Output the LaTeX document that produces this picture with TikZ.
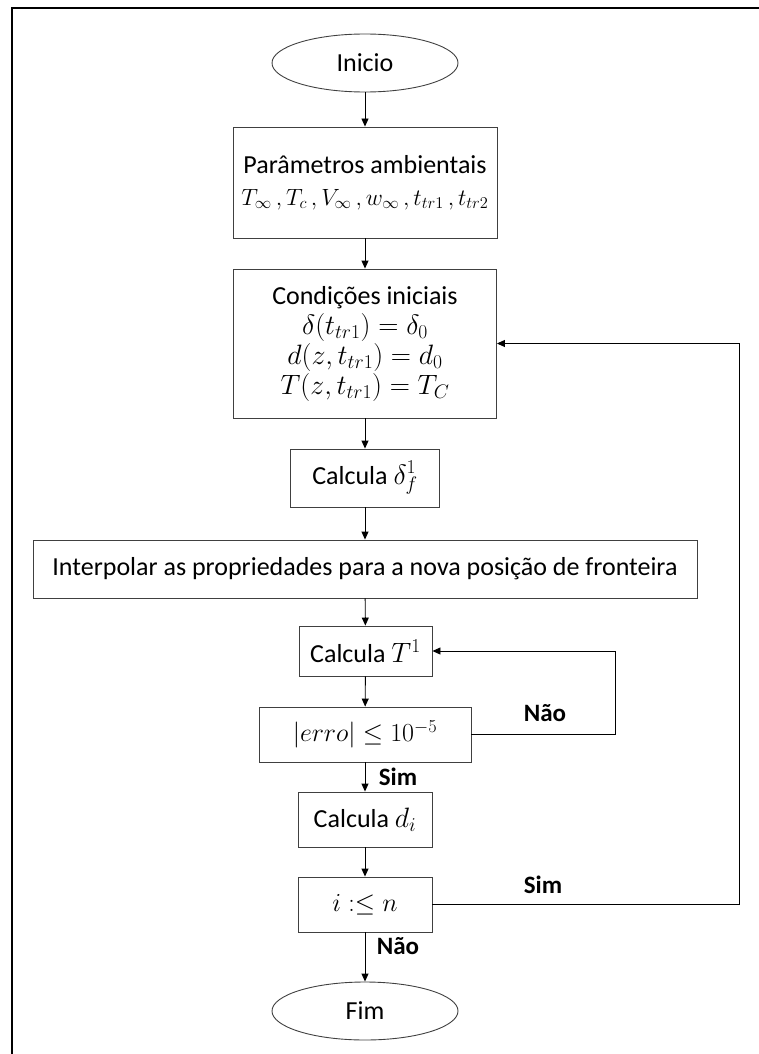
\RequirePackage{fix-cm}
\documentclass[tikz,border=0pt]{standalone}
\usepackage{fontspec}
\setmainfont{Carlito}
\usetikzlibrary{shapes.geometric,arrows.meta}
\newcommand\mthsz[2]{{\fontsize{#1}{30}\selectfont$#2$}}
\begin{document}
\begin{tikzpicture}[x=1pt,y=-1pt,
  box/.style={draw=black!75, line width=0.9pt, rectangle, inner sep=0pt, align=center, font=\fontsize{26}{30}\selectfont},
  term/.style={draw=black!75, line width=0.9pt, ellipse, inner sep=0pt, minimum width=186pt, minimum height=58pt, font=\fontsize{26}{28}\selectfont},
  arr/.style={-{Triangle[length=8pt,width=7pt]}, line width=0.9pt},
  lbl/.style={font=\bfseries\fontsize{25}{28}\selectfont, inner sep=0pt}]
\useasboundingbox (0,0) rectangle (758,1054);
\draw[line width=2pt] (12,1054) -- (12,8) -- (759,8);

\node[term] (inicio) at (365,63) {Inicio};
\node[box, minimum width=264pt, minimum height=111pt] (param) at (365,182.5)
  {Parâmetros ambientais\\[2pt] \mthsz{23.5}{T_\infty\,,T_c\,,V_\infty\,,w_\infty\,,t_{tr1}\,,t_{tr2}}};
\node[box, minimum width=263pt, minimum height=149pt] (cond) at (365,343.5)
  {Condições iniciais\\ \mthsz{28}{\delta(t_{tr1})=\delta_0}\\ \mthsz{28}{d(z,t_{tr1})=d_0}\\ \mthsz{28}{T(z,t_{tr1})=T_C}};
\node[box, minimum width=149pt, minimum height=58pt] (calcdelta) at (365,478) {Calcula \mthsz{28}{\delta_f^1}};
\node[box, minimum width=664pt, minimum height=58pt] (interp) at (365,569)
  {Interpolar as propriedades para a nova posição de fronteira};
\node[box, minimum width=133pt, minimum height=50pt] (calcT) at (365.5,651) {Calcula \mthsz{28}{T^1}};
\node[box, minimum width=212pt, minimum height=55pt] (erro) at (365,734.5) {\mthsz{26}{|erro|\leq 10^{-5}}};
\node[box, minimum width=134pt, minimum height=55pt] (calcd) at (365,819.5) {Calcula \mthsz{28}{d_i}};
\node[box, minimum width=134pt, minimum height=55pt] (ileq) at (365,904.5) {\mthsz{26}{i:\leq n}};
\node[term] (fim) at (365,1011) {Fim};

\coordinate (nl) at (615,0);
\coordinate (sl) at (739,0);

\draw[arr] (inicio) -- (param);
\draw[arr] (param) -- (cond);
\draw[arr] (cond) -- (calcdelta);
\draw[arr] (calcdelta) -- (interp);
\draw[arr] (interp) -- (calcT);
\draw[arr] (calcT) -- (erro);
\draw[arr] (erro) -- (calcd);
\draw[arr] (calcd) -- (ileq);
\draw[arr] (ileq) -- (fim);
\draw[arr] (erro.east) -- (erro.east -| nl) |- (calcT.east);
\draw[arr] (ileq.east) -- (ileq.east -| sl) |- (cond.east);

\node[lbl] (nao1) at (545,713) {Não};
\node[lbl] (sim1) at (543,885) {Sim};
\node[lbl] (sim2) at (398,777) {Sim};
\node[lbl] (nao2) at (398,946) {Não};
\end{tikzpicture}
\end{document}
